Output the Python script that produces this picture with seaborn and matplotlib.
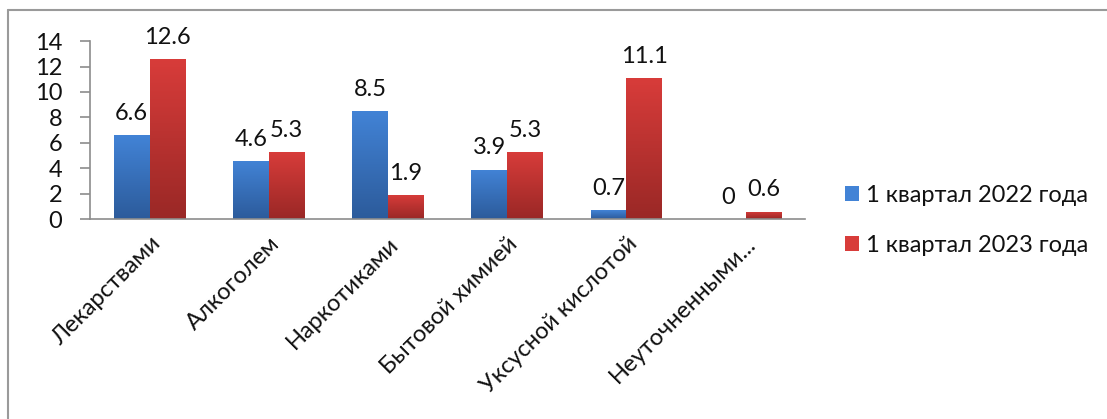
import numpy as np
import pandas as pd
import matplotlib
matplotlib.use("Agg")
import matplotlib.pyplot as plt
import seaborn as sns
from matplotlib.colors import LinearSegmentedColormap
from matplotlib.patches import Patch
from matplotlib.lines import Line2D

# data
categories = ["Лекарствами", "Алкоголем", "Наркотиками", "Бытовой химией",
              "Уксусной кислотой", "Неуточненными..."]
series_names = ["1 квартал 2022 года", "1 квартал 2023 года"]
values_2022 = [6.6, 4.6, 8.5, 3.9, 0.7, 0]
values_2023 = [12.6, 5.3, 1.9, 5.3, 11.1, 0.6]

df = pd.DataFrame({
    "category": categories * 2,
    "series": [series_names[0]] * 6 + [series_names[1]] * 6,
    "value": values_2022 + values_2023,
})

sns.set_style("white")
plt.rcParams["font.family"] = ["Lato", "DejaVu Sans"]
FS = 17
TXT = "#111111"

# gradient colours (top, bottom) like the Excel bars
grads = {
    series_names[0]: ("#4283d6", "#2c5b9b"),
    series_names[1]: ("#d83c3a", "#9a2826"),
}

fig = plt.figure(figsize=(11.07, 4.19), dpi=100)
ax = fig.add_axes([0.0813, 0.477, 0.646, 0.425])

sns.barplot(data=df, x="category", y="value", hue="series", order=categories,
            hue_order=series_names, palette=[grads[s][0] for s in series_names],
            width=0.6, ax=ax, legend=False, errorbar=None)

# gradient fill clipped to each bar
for cont, name in zip(ax.containers, series_names):
    top, bottom = grads[name]
    cmap = LinearSegmentedColormap.from_list(name, [bottom, top])
    for bar in cont:
        x0, y0 = bar.get_x(), bar.get_y()
        w, h = bar.get_width(), bar.get_height()
        if h <= 0:
            continue
        grad = np.linspace(1, 0, 100).reshape(-1, 1)
        im = ax.imshow(grad, cmap=cmap, aspect="auto", extent=[x0, x0 + w, y0, y0 + h],
                       zorder=bar.get_zorder() + 0.1)
        im.set_clip_path(bar)
    ax.bar_label(cont, labels=[f"{v:g}" for v in cont.datavalues], padding=8,
                 fontsize=FS, color=TXT)

ax.set_xlim(-0.5, 5.5)
ax.set_ylim(0, 14)
ax.set_yticks(range(0, 15, 2))
ax.set_xlabel("")
ax.set_ylabel("")

for side in ["top", "right"]:
    ax.spines[side].set_visible(False)
for side in ["left", "bottom"]:
    ax.spines[side].set_color("#8c8c8c")
    ax.spines[side].set_linewidth(1.2)

ax.set_xticks(np.arange(-0.5, 6, 1), minor=True)
ax.tick_params(axis="x", which="major", length=0, pad=10)
ax.tick_params(axis="x", which="minor", length=6, color="#8c8c8c", width=1.2)
ax.tick_params(axis="y", length=7, color="#8c8c8c", width=1.2, left=True,
               labelsize=FS, pad=13, labelcolor=TXT)
ax.set_xticks(range(len(categories)))
ax.set_xticklabels(categories, rotation=45, ha="right", rotation_mode="anchor",
                   fontsize=FS, color=TXT)

handles = [Patch(facecolor=grads[s][0], edgecolor="none") for s in series_names]
fig.legend(handles, series_names, loc="center left", bbox_to_anchor=(0.744, 0.474),
           frameon=False, fontsize=FS, handlelength=0.6, handleheight=0.6,
           handletextpad=0.3, labelspacing=1.2, labelcolor=TXT)

# outer chart border (only top and left edges visible in the crop)
fig.add_artist(Line2D([0.0072, 1.0], [0.976, 0.976], transform=fig.transFigure,
                      color="#9a9a9a", linewidth=1.5))
fig.add_artist(Line2D([0.0072, 0.0072], [0.0, 0.976], transform=fig.transFigure,
                      color="#9a9a9a", linewidth=1.5))

fig.savefig("out.png", dpi=100)
